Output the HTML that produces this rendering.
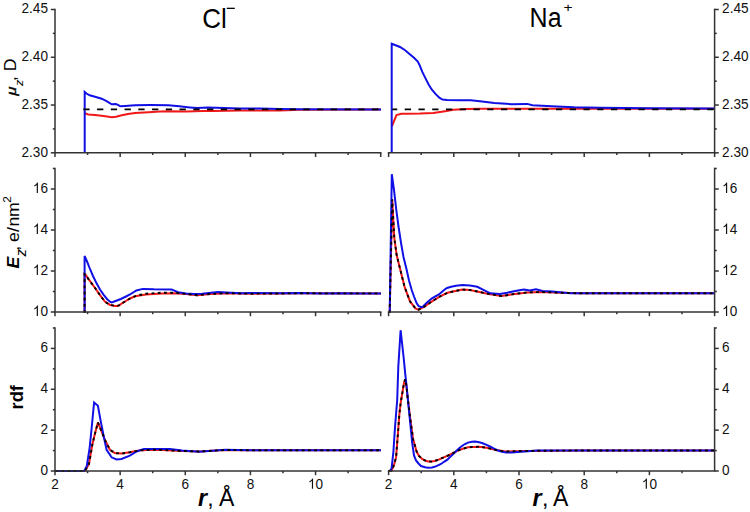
<!DOCTYPE html>
<html><head><meta charset="utf-8"><style>
html,body{margin:0;padding:0;background:#fff;}
svg{display:block;}
</style></head><body>
<svg width="750" height="512" viewBox="0 0 750 512">
<rect width="750" height="512" fill="#fff"/>
<defs>
<clipPath id="ctL"><rect x="52.0" y="7.5" width="331.7" height="146.3"/></clipPath>
<clipPath id="cmL"><rect x="52.0" y="166.5" width="331.7" height="146.5"/></clipPath>
<clipPath id="cbL"><rect x="52.0" y="326.0" width="331.7" height="146.0"/></clipPath>
<clipPath id="ctR"><rect x="385.6" y="7.5" width="332.0" height="146.3"/></clipPath>
<clipPath id="cmR"><rect x="385.6" y="166.5" width="332.0" height="146.5"/></clipPath>
<clipPath id="cbR"><rect x="385.6" y="326.0" width="332.0" height="146.0"/></clipPath>
</defs>
<g clip-path="url(#ctL)">
<polyline points="84.7,113.3 88.3,114.4 95.0,115.0 101.7,115.7 107.0,116.6 111.7,117.3 116.0,116.7 121.7,115.3 128.0,114.0 135.0,113.0 148.3,112.2 160.0,111.6 168.3,111.3 186.7,111.5 202.7,111.0 213.3,111.1 240.0,110.4 280.0,110.4 300.0,109.8 381.0,109.5" fill="none" stroke="#f01818" stroke-width="2" stroke-linejoin="miter" stroke-miterlimit="3" />
<polyline points="84.7,153.0 84.7,92.0 86.5,93.5 89.7,95.3 95.0,96.8 101.7,98.7 107.0,101.3 111.7,104.3 115.7,104.0 118.0,104.8 120.3,106.3 125.0,106.0 135.0,105.3 150.0,105.1 168.5,105.2 179.2,106.3 189.9,107.4 197.3,108.1 208.0,107.4 224.0,108.1 240.0,108.5 260.0,108.6 280.0,109.0 300.0,109.2 381.0,109.4" fill="none" stroke="#1010e6" stroke-width="2" stroke-linejoin="miter" stroke-miterlimit="3" />
<polyline points="83.3,109.3 381.0,109.3" fill="none" stroke="#000" stroke-width="1.7" stroke-linejoin="miter" stroke-miterlimit="3" stroke-dasharray="6.3 7.45" stroke-dashoffset="0"/>
</g>
<g clip-path="url(#ctR)">
<polyline points="391.7,126.5 396.5,115.1 401.4,113.8 406.7,113.7 420.0,113.6 433.3,112.9 446.7,110.9 453.3,109.7 466.7,109.0 480.0,108.7 600.0,108.7 714.0,108.7" fill="none" stroke="#f01818" stroke-width="2" stroke-linejoin="miter" stroke-miterlimit="3" />
<polyline points="391.7,153.0 391.7,43.7 395.0,45.0 400.0,47.0 405.1,50.2 409.5,54.0 414.0,57.8 417.8,61.6 419.7,65.4 422.2,71.7 425.4,78.1 428.6,84.4 431.7,89.5 435.5,93.9 439.3,97.7 442.5,99.6 447.0,100.0 460.0,100.3 470.7,100.3 480.0,101.3 494.3,103.0 511.6,104.2 527.2,103.9 532.4,105.3 556.7,106.5 574.0,107.3 600.0,107.7 650.0,108.2 714.0,108.5" fill="none" stroke="#1010e6" stroke-width="2" stroke-linejoin="miter" stroke-miterlimit="3" />
<polyline points="392.2,109.3 714.0,109.3" fill="none" stroke="#000" stroke-width="1.7" stroke-linejoin="miter" stroke-miterlimit="3" stroke-dasharray="6.3 7.45" stroke-dashoffset="1.25"/>
</g>
<g clip-path="url(#cmL)">
<polyline points="84.6,313.0 84.6,274.0 85.5,274.5 88.9,279.7 94.7,287.5 100.2,295.3 104.9,301.6 109.6,304.7 114.8,305.9 117.5,305.9 119.5,305.1 122.0,303.3 124.2,302.0 130.0,298.5 135.0,296.3 138.0,295.8 146.0,294.5 162.0,293.6 174.8,293.3 186.0,294.0 197.2,295.3 210.0,294.0 226.0,293.2 250.0,293.7 280.0,293.5 300.0,293.3 381.0,293.4" fill="none" stroke="#f01818" stroke-width="2" stroke-linejoin="miter" stroke-miterlimit="3" />
<polyline points="84.6,313.0 84.6,256.0 87.0,261.5 89.6,268.0 93.0,276.0 96.7,283.6 100.0,289.5 103.5,294.6 107.2,299.2 109.5,301.3 111.3,302.4 113.0,302.0 120.8,299.0 126.0,296.5 130.0,294.5 136.4,290.5 142.8,288.9 154.0,289.3 171.6,289.4 178.0,292.2 186.0,293.5 194.0,294.0 202.0,293.7 218.0,292.0 226.0,292.4 242.0,293.2 250.0,292.9 280.0,293.3 300.0,293.1 320.0,293.6 340.0,293.3 360.0,293.5 381.0,293.4" fill="none" stroke="#1010e6" stroke-width="2" stroke-linejoin="miter" stroke-miterlimit="3" />
<polyline points="84.6,313.0 84.6,274.0 85.5,274.5 88.9,279.7 94.7,287.5 100.2,295.3 104.9,301.6 109.6,304.7 114.8,305.9 117.5,305.9 119.5,305.1 122.0,303.3 124.2,302.0 130.0,298.5 135.0,296.3 138.0,295.3 146.0,293.7 162.0,292.7 174.8,292.7 186.0,294.0 197.2,295.3 210.0,294.0 226.0,293.2 250.0,293.7 280.0,293.5 300.0,293.3 381.0,293.4" fill="none" stroke="#000" stroke-width="1.9" stroke-linejoin="miter" stroke-miterlimit="3" stroke-dasharray="2.8 3.4"/>
</g>
<g clip-path="url(#cmR)">
<polyline points="389.7,313.0 392.2,199.4 394.3,238.0 396.7,255.3 400.6,270.9 404.5,286.6 410.0,301.4 415.5,308.4 418.6,309.7 424.0,306.9 431.9,301.4 439.7,296.7 447.5,292.8 455.3,291.0 462.4,289.6 470.0,290.0 477.3,291.5 488.5,293.9 501.6,296.1 514.6,293.9 527.7,292.4 542.6,292.0 560.0,292.8 580.0,293.3 714.0,293.3" fill="none" stroke="#f01818" stroke-width="2" stroke-linejoin="miter" stroke-miterlimit="3" />
<polyline points="389.7,313.0 391.8,174.2 394.0,190.0 396.3,210.0 398.5,226.5 401.1,243.3 403.5,257.0 406.7,270.0 409.0,280.5 411.7,290.0 414.0,296.5 416.7,303.3 418.5,306.0 420.5,307.0 422.5,306.9 427.0,302.5 431.9,298.3 438.9,294.4 444.4,289.7 447.0,288.0 451.2,286.8 456.0,285.8 462.4,284.9 470.0,285.5 477.3,286.8 482.9,289.6 490.4,293.3 499.7,293.9 507.2,292.8 512.8,291.5 518.0,290.5 524.0,289.6 529.6,290.5 536.0,289.2 542.6,290.9 552.0,291.5 570.6,293.3 580.0,293.3 714.0,293.3" fill="none" stroke="#1010e6" stroke-width="2" stroke-linejoin="miter" stroke-miterlimit="3" />
<polyline points="389.7,313.0 392.2,199.4 394.3,238.0 396.7,255.3 400.6,270.9 404.5,286.6 410.0,301.4 415.5,308.4 418.6,309.7 424.0,306.9 431.9,301.4 439.7,296.7 447.5,292.8 455.3,291.0 462.4,289.6 470.0,290.0 477.3,291.5 488.5,293.9 501.6,296.1 514.6,293.9 527.7,292.4 542.6,292.0 560.0,292.8 580.0,293.3 714.0,293.3" fill="none" stroke="#000" stroke-width="1.9" stroke-linejoin="miter" stroke-miterlimit="3" stroke-dasharray="2.8 3.4"/>
</g>
<g clip-path="url(#cbL)">
<polyline points="55.0,471.0 85.0,471.0 89.0,463.9 92.3,444.8 94.6,434.9 97.9,422.4 101.6,431.5 104.9,439.8 109.9,449.8 114.9,453.1 121.5,453.6 129.8,452.3 140.4,450.3 156.0,449.7 182.0,451.0 199.3,451.5 225.0,450.0 251.0,450.3 381.0,450.3" fill="none" stroke="#f01818" stroke-width="2" stroke-linejoin="miter" stroke-miterlimit="3" />
<polyline points="55.0,471.0 84.2,471.0 86.8,466.0 89.6,448.1 91.3,431.5 94.1,402.5 97.9,405.8 100.8,421.6 104.1,438.2 106.6,449.8 111.6,457.3 116.5,459.4 121.5,458.9 129.8,455.6 136.7,451.5 143.9,448.9 169.9,448.9 182.0,450.6 199.3,451.8 225.3,449.7 251.3,450.3 300.0,450.3 381.0,450.3" fill="none" stroke="#1010e6" stroke-width="2" stroke-linejoin="miter" stroke-miterlimit="3" />
<polyline points="55.0,471.0 85.0,471.0 89.0,463.9 92.3,444.8 94.6,434.9 97.9,422.4 101.6,431.5 104.9,439.8 109.9,449.8 114.9,453.1 121.5,453.6 129.8,452.3 140.4,450.3 156.0,449.7 182.0,451.0 199.3,451.5 225.0,450.0 251.0,450.3 381.0,450.3" fill="none" stroke="#000" stroke-width="1.9" stroke-linejoin="miter" stroke-miterlimit="3" stroke-dasharray="2.8 3.4"/>
</g>
<g clip-path="url(#cbR)">
<polyline points="388.6,471.0 391.6,470.5 394.0,465.0 396.1,457.2 397.9,433.9 399.3,415.0 400.6,403.3 402.4,392.6 404.0,383.0 405.2,379.3 406.4,386.0 407.7,398.0 410.4,419.5 413.1,439.2 416.7,451.8 419.0,456.0 422.1,459.0 425.8,460.8 428.0,461.5 431.4,461.6 434.6,461.0 438.6,459.6 445.0,456.8 451.4,454.0 457.8,450.6 462.0,449.0 468.0,447.2 479.2,446.8 486.6,447.7 496.0,450.1 505.3,451.5 524.0,450.9 580.0,450.5 714.0,450.5" fill="none" stroke="#f01818" stroke-width="2" stroke-linejoin="miter" stroke-miterlimit="3" />
<polyline points="388.6,471.0 390.6,470.8 391.6,468.0 392.5,460.0 393.4,451.8 394.3,438.0 395.2,424.9 396.3,411.0 397.2,400.0 398.3,366.9 400.6,330.2 403.8,359.0 405.3,374.7 406.5,385.0 408.6,406.9 410.4,424.9 412.2,442.8 414.0,455.4 416.0,460.5 418.5,463.5 421.0,466.0 425.0,467.3 428.0,467.8 432.0,467.4 434.6,466.8 438.0,465.3 441.0,464.0 444.0,461.8 447.4,459.6 450.0,457.0 453.0,454.4 456.0,451.2 459.4,448.0 462.0,446.0 465.0,444.0 468.0,442.6 472.0,441.8 475.0,441.6 478.0,442.0 482.0,443.0 486.0,444.6 490.0,446.5 494.0,448.7 498.0,450.5 502.0,451.8 506.0,452.4 512.0,452.4 518.0,452.0 528.0,451.2 537.0,450.5 580.0,450.5 714.0,450.5" fill="none" stroke="#1010e6" stroke-width="2" stroke-linejoin="miter" stroke-miterlimit="3" />
<polyline points="388.6,471.0 391.6,470.5 394.0,465.0 396.1,457.2 397.9,433.9 399.3,415.0 400.6,403.3 402.4,392.6 404.0,383.0 405.2,379.3 406.4,386.0 407.7,398.0 410.4,419.5 413.1,439.2 416.7,451.8 419.0,456.0 422.1,459.0 425.8,460.8 428.0,461.5 431.4,461.6 434.6,461.0 438.6,459.6 445.0,456.8 451.4,454.0 457.8,450.6 462.0,449.0 468.0,447.2 479.2,446.8 486.6,447.7 496.0,450.1 505.3,451.5 524.0,450.9 580.0,450.5 714.0,450.5" fill="none" stroke="#000" stroke-width="1.9" stroke-linejoin="miter" stroke-miterlimit="3" stroke-dasharray="2.8 3.4"/>
</g>
<g stroke="#333" stroke-width="1.5" fill="none" stroke-linecap="butt">
<line x1="54.20" y1="152.80" x2="381.50" y2="152.80"/>
<line x1="55.00" y1="152.80" x2="55.00" y2="157.00"/>
<line x1="87.57" y1="152.80" x2="87.57" y2="155.00"/>
<line x1="120.14" y1="152.80" x2="120.14" y2="157.00"/>
<line x1="152.71" y1="152.80" x2="152.71" y2="155.00"/>
<line x1="185.28" y1="152.80" x2="185.28" y2="157.00"/>
<line x1="217.85" y1="152.80" x2="217.85" y2="155.00"/>
<line x1="250.42" y1="152.80" x2="250.42" y2="157.00"/>
<line x1="282.99" y1="152.80" x2="282.99" y2="155.00"/>
<line x1="315.56" y1="152.80" x2="315.56" y2="157.00"/>
<line x1="348.13" y1="152.80" x2="348.13" y2="155.00"/>
<line x1="380.70" y1="152.80" x2="380.70" y2="157.00"/>
<line x1="55.00" y1="8.70" x2="55.00" y2="152.80"/>
<line x1="55.00" y1="152.80" x2="50.80" y2="152.80"/>
<line x1="55.00" y1="105.03" x2="50.80" y2="105.03"/>
<line x1="55.00" y1="57.27" x2="50.80" y2="57.27"/>
<line x1="55.00" y1="9.50" x2="50.80" y2="9.50"/>
<line x1="55.00" y1="128.92" x2="52.80" y2="128.92"/>
<line x1="55.00" y1="81.15" x2="52.80" y2="81.15"/>
<line x1="55.00" y1="33.38" x2="52.80" y2="33.38"/>
<line x1="54.20" y1="312.00" x2="381.50" y2="312.00"/>
<line x1="55.00" y1="312.00" x2="55.00" y2="316.20"/>
<line x1="87.57" y1="312.00" x2="87.57" y2="314.20"/>
<line x1="120.14" y1="312.00" x2="120.14" y2="316.20"/>
<line x1="152.71" y1="312.00" x2="152.71" y2="314.20"/>
<line x1="185.28" y1="312.00" x2="185.28" y2="316.20"/>
<line x1="217.85" y1="312.00" x2="217.85" y2="314.20"/>
<line x1="250.42" y1="312.00" x2="250.42" y2="316.20"/>
<line x1="282.99" y1="312.00" x2="282.99" y2="314.20"/>
<line x1="315.56" y1="312.00" x2="315.56" y2="316.20"/>
<line x1="348.13" y1="312.00" x2="348.13" y2="314.20"/>
<line x1="380.70" y1="312.00" x2="380.70" y2="316.20"/>
<line x1="55.00" y1="167.70" x2="55.00" y2="312.00"/>
<line x1="55.00" y1="312.00" x2="50.80" y2="312.00"/>
<line x1="55.00" y1="271.00" x2="50.80" y2="271.00"/>
<line x1="55.00" y1="230.00" x2="50.80" y2="230.00"/>
<line x1="55.00" y1="189.00" x2="50.80" y2="189.00"/>
<line x1="55.00" y1="291.50" x2="52.80" y2="291.50"/>
<line x1="55.00" y1="250.50" x2="52.80" y2="250.50"/>
<line x1="55.00" y1="209.50" x2="52.80" y2="209.50"/>
<line x1="55.00" y1="168.50" x2="52.80" y2="168.50"/>
<line x1="54.20" y1="471.00" x2="381.50" y2="471.00"/>
<line x1="55.00" y1="471.00" x2="55.00" y2="475.20"/>
<line x1="87.57" y1="471.00" x2="87.57" y2="473.20"/>
<line x1="120.14" y1="471.00" x2="120.14" y2="475.20"/>
<line x1="152.71" y1="471.00" x2="152.71" y2="473.20"/>
<line x1="185.28" y1="471.00" x2="185.28" y2="475.20"/>
<line x1="217.85" y1="471.00" x2="217.85" y2="473.20"/>
<line x1="250.42" y1="471.00" x2="250.42" y2="475.20"/>
<line x1="282.99" y1="471.00" x2="282.99" y2="473.20"/>
<line x1="315.56" y1="471.00" x2="315.56" y2="475.20"/>
<line x1="348.13" y1="471.00" x2="348.13" y2="473.20"/>
<line x1="55.00" y1="327.20" x2="55.00" y2="471.00"/>
<line x1="55.00" y1="471.00" x2="50.80" y2="471.00"/>
<line x1="55.00" y1="430.14" x2="50.80" y2="430.14"/>
<line x1="55.00" y1="389.29" x2="50.80" y2="389.29"/>
<line x1="55.00" y1="348.43" x2="50.80" y2="348.43"/>
<line x1="55.00" y1="450.57" x2="52.80" y2="450.57"/>
<line x1="55.00" y1="409.71" x2="52.80" y2="409.71"/>
<line x1="55.00" y1="368.86" x2="52.80" y2="368.86"/>
<line x1="55.00" y1="328.00" x2="52.80" y2="328.00"/>
<line x1="387.80" y1="152.80" x2="715.40" y2="152.80"/>
<line x1="388.60" y1="152.80" x2="388.60" y2="157.00"/>
<line x1="421.20" y1="152.80" x2="421.20" y2="155.00"/>
<line x1="453.80" y1="152.80" x2="453.80" y2="157.00"/>
<line x1="486.40" y1="152.80" x2="486.40" y2="155.00"/>
<line x1="519.00" y1="152.80" x2="519.00" y2="157.00"/>
<line x1="551.60" y1="152.80" x2="551.60" y2="155.00"/>
<line x1="584.20" y1="152.80" x2="584.20" y2="157.00"/>
<line x1="616.80" y1="152.80" x2="616.80" y2="155.00"/>
<line x1="649.40" y1="152.80" x2="649.40" y2="157.00"/>
<line x1="682.00" y1="152.80" x2="682.00" y2="155.00"/>
<line x1="714.60" y1="152.80" x2="714.60" y2="157.00"/>
<line x1="714.60" y1="8.70" x2="714.60" y2="152.80"/>
<line x1="714.60" y1="152.80" x2="718.80" y2="152.80"/>
<line x1="714.60" y1="105.03" x2="718.80" y2="105.03"/>
<line x1="714.60" y1="57.27" x2="718.80" y2="57.27"/>
<line x1="714.60" y1="9.50" x2="718.80" y2="9.50"/>
<line x1="714.60" y1="128.92" x2="716.80" y2="128.92"/>
<line x1="714.60" y1="81.15" x2="716.80" y2="81.15"/>
<line x1="714.60" y1="33.38" x2="716.80" y2="33.38"/>
<line x1="387.80" y1="312.00" x2="715.40" y2="312.00"/>
<line x1="388.60" y1="312.00" x2="388.60" y2="316.20"/>
<line x1="421.20" y1="312.00" x2="421.20" y2="314.20"/>
<line x1="453.80" y1="312.00" x2="453.80" y2="316.20"/>
<line x1="486.40" y1="312.00" x2="486.40" y2="314.20"/>
<line x1="519.00" y1="312.00" x2="519.00" y2="316.20"/>
<line x1="551.60" y1="312.00" x2="551.60" y2="314.20"/>
<line x1="584.20" y1="312.00" x2="584.20" y2="316.20"/>
<line x1="616.80" y1="312.00" x2="616.80" y2="314.20"/>
<line x1="649.40" y1="312.00" x2="649.40" y2="316.20"/>
<line x1="682.00" y1="312.00" x2="682.00" y2="314.20"/>
<line x1="714.60" y1="312.00" x2="714.60" y2="316.20"/>
<line x1="714.60" y1="167.70" x2="714.60" y2="312.00"/>
<line x1="714.60" y1="312.00" x2="718.80" y2="312.00"/>
<line x1="714.60" y1="271.00" x2="718.80" y2="271.00"/>
<line x1="714.60" y1="230.00" x2="718.80" y2="230.00"/>
<line x1="714.60" y1="189.00" x2="718.80" y2="189.00"/>
<line x1="714.60" y1="291.50" x2="716.80" y2="291.50"/>
<line x1="714.60" y1="250.50" x2="716.80" y2="250.50"/>
<line x1="714.60" y1="209.50" x2="716.80" y2="209.50"/>
<line x1="714.60" y1="168.50" x2="716.80" y2="168.50"/>
<line x1="387.80" y1="471.00" x2="715.40" y2="471.00"/>
<line x1="388.60" y1="471.00" x2="388.60" y2="475.20"/>
<line x1="421.20" y1="471.00" x2="421.20" y2="473.20"/>
<line x1="453.80" y1="471.00" x2="453.80" y2="475.20"/>
<line x1="486.40" y1="471.00" x2="486.40" y2="473.20"/>
<line x1="519.00" y1="471.00" x2="519.00" y2="475.20"/>
<line x1="551.60" y1="471.00" x2="551.60" y2="473.20"/>
<line x1="584.20" y1="471.00" x2="584.20" y2="475.20"/>
<line x1="616.80" y1="471.00" x2="616.80" y2="473.20"/>
<line x1="649.40" y1="471.00" x2="649.40" y2="475.20"/>
<line x1="682.00" y1="471.00" x2="682.00" y2="473.20"/>
<line x1="714.60" y1="327.20" x2="714.60" y2="471.00"/>
<line x1="714.60" y1="471.00" x2="718.80" y2="471.00"/>
<line x1="714.60" y1="430.14" x2="718.80" y2="430.14"/>
<line x1="714.60" y1="389.29" x2="718.80" y2="389.29"/>
<line x1="714.60" y1="348.43" x2="718.80" y2="348.43"/>
<line x1="714.60" y1="450.57" x2="716.80" y2="450.57"/>
<line x1="714.60" y1="409.71" x2="716.80" y2="409.71"/>
<line x1="714.60" y1="368.86" x2="716.80" y2="368.86"/>
<line x1="714.60" y1="328.00" x2="716.80" y2="328.00"/>
</g>
<g font-family="Liberation Sans, sans-serif" font-size="13.6" fill="#111">
<text transform="translate(21.53,156.70) scale(1,1.1)">2.30</text>
<text transform="translate(21.53,108.93) scale(1,1.1)">2.35</text>
<text transform="translate(21.53,61.17) scale(1,1.1)">2.40</text>
<text transform="translate(21.53,13.40) scale(1,1.1)">2.45</text>
<path d="M763,0L583,0L583,1098Q518,1039 412,979Q306,920 222,890L222,1057Q373,1125 486,1221Q599,1318 646,1409L763,1409Z" transform="translate(32.87,315.90) scale(0.006641,-0.007305)"/><text transform="translate(40.44,315.90) scale(1,1.1)">0</text>
<path d="M763,0L583,0L583,1098Q518,1039 412,979Q306,920 222,890L222,1057Q373,1125 486,1221Q599,1318 646,1409L763,1409Z" transform="translate(32.87,274.90) scale(0.006641,-0.007305)"/><text transform="translate(40.44,274.90) scale(1,1.1)">2</text>
<path d="M763,0L583,0L583,1098Q518,1039 412,979Q306,920 222,890L222,1057Q373,1125 486,1221Q599,1318 646,1409L763,1409Z" transform="translate(32.87,233.90) scale(0.006641,-0.007305)"/><text transform="translate(40.44,233.90) scale(1,1.1)">4</text>
<path d="M763,0L583,0L583,1098Q518,1039 412,979Q306,920 222,890L222,1057Q373,1125 486,1221Q599,1318 646,1409L763,1409Z" transform="translate(32.87,192.90) scale(0.006641,-0.007305)"/><text transform="translate(40.44,192.90) scale(1,1.1)">6</text>
<text transform="translate(40.44,474.90) scale(1,1.1)">0</text>
<text transform="translate(40.44,434.04) scale(1,1.1)">2</text>
<text transform="translate(40.44,393.19) scale(1,1.1)">4</text>
<text transform="translate(40.44,352.33) scale(1,1.1)">6</text>
<text transform="translate(722.10,156.70) scale(1,1.1)">2.30</text>
<text transform="translate(722.10,108.93) scale(1,1.1)">2.35</text>
<text transform="translate(722.10,61.17) scale(1,1.1)">2.40</text>
<text transform="translate(722.10,13.40) scale(1,1.1)">2.45</text>
<path d="M763,0L583,0L583,1098Q518,1039 412,979Q306,920 222,890L222,1057Q373,1125 486,1221Q599,1318 646,1409L763,1409Z" transform="translate(722.10,315.90) scale(0.006641,-0.007305)"/><text transform="translate(729.66,315.90) scale(1,1.1)">0</text>
<path d="M763,0L583,0L583,1098Q518,1039 412,979Q306,920 222,890L222,1057Q373,1125 486,1221Q599,1318 646,1409L763,1409Z" transform="translate(722.10,274.90) scale(0.006641,-0.007305)"/><text transform="translate(729.66,274.90) scale(1,1.1)">2</text>
<path d="M763,0L583,0L583,1098Q518,1039 412,979Q306,920 222,890L222,1057Q373,1125 486,1221Q599,1318 646,1409L763,1409Z" transform="translate(722.10,233.90) scale(0.006641,-0.007305)"/><text transform="translate(729.66,233.90) scale(1,1.1)">4</text>
<path d="M763,0L583,0L583,1098Q518,1039 412,979Q306,920 222,890L222,1057Q373,1125 486,1221Q599,1318 646,1409L763,1409Z" transform="translate(722.10,192.90) scale(0.006641,-0.007305)"/><text transform="translate(729.66,192.90) scale(1,1.1)">6</text>
<text transform="translate(722.10,474.90) scale(1,1.1)">0</text>
<text transform="translate(722.10,434.04) scale(1,1.1)">2</text>
<text transform="translate(722.10,393.19) scale(1,1.1)">4</text>
<text transform="translate(722.10,352.33) scale(1,1.1)">6</text>
<text transform="translate(51.22,488.80) scale(1,1.1)">2</text>
<text transform="translate(116.36,488.80) scale(1,1.1)">4</text>
<text transform="translate(181.50,488.80) scale(1,1.1)">6</text>
<text transform="translate(246.64,488.80) scale(1,1.1)">8</text>
<path d="M763,0L583,0L583,1098Q518,1039 412,979Q306,920 222,890L222,1057Q373,1125 486,1221Q599,1318 646,1409L763,1409Z" transform="translate(308.00,488.80) scale(0.006641,-0.007305)"/><text transform="translate(315.56,488.80) scale(1,1.1)">0</text>
<text transform="translate(384.82,488.80) scale(1,1.1)">2</text>
<text transform="translate(450.02,488.80) scale(1,1.1)">4</text>
<text transform="translate(515.22,488.80) scale(1,1.1)">6</text>
<text transform="translate(580.42,488.80) scale(1,1.1)">8</text>
<path d="M763,0L583,0L583,1098Q518,1039 412,979Q306,920 222,890L222,1057Q373,1125 486,1221Q599,1318 646,1409L763,1409Z" transform="translate(641.84,488.80) scale(0.006641,-0.007305)"/><text transform="translate(649.40,488.80) scale(1,1.1)">0</text>
</g>

<g font-family="Liberation Sans, sans-serif">
<text transform="translate(202.3,27.9) scale(0.96,1.02)" font-size="27" fill="#000">Cl</text>
<rect x="226.8" y="7.7" width="8" height="1.3" fill="#000"/>
<text transform="translate(529.6,26.8) scale(0.95,1.035)" font-size="26.3" fill="#000">Na</text>
<text transform="translate(563.6,11.6) scale(1.1,0.95)" font-size="14.2" fill="#000">+</text>
<g transform="translate(16.1,95.6) rotate(-90) scale(1.08,1)">
 <text transform="scale(1.12,1)" x="0" y="0" font-size="13.5" font-style="italic" fill="#000" stroke="#000" stroke-width="0.4">μ</text>
 <text x="8.9" y="7" font-size="11.5" font-style="italic" fill="#000">z</text>
 <text x="13.6" y="0" font-size="16" fill="#000">,</text>
 <text x="22.5" y="0" font-size="16.5" fill="#000">D</text>
</g>
<g transform="translate(19.2,268.4) rotate(-90) scale(1.08,1)">
 <text x="0" y="0" font-size="16.3" font-weight="bold" font-style="italic" fill="#000">E</text>
 <text x="11.1" y="7" font-size="14" font-style="italic" fill="#000">z</text>
 <text x="16.3" y="0" font-size="16.3" fill="#000">,</text>
 <text x="24.5" y="0" font-size="16.3" fill="#000">e</text>
 <text x="33.8" y="0" font-size="16.3" fill="#000">/</text>
 <text x="38.9" y="0" font-size="16.3" fill="#000">n</text>
 <text x="47.7" y="0" font-size="16.3" fill="#000">m</text>
 <text x="60.9" y="-8.25" font-size="11" fill="#000">2</text>
</g>
<g transform="translate(23.3,409.4) rotate(-90) scale(1.045,1)">
 <text x="0" y="0" font-size="17.5" font-weight="bold" fill="#000">rdf</text>
</g>
<text x="197.9" y="505.5" font-size="23.3" font-weight="bold" font-style="italic" fill="#000">r</text>
<text x="207.3" y="505.5" font-size="23" fill="#000">,</text>
<text x="218.9" y="505.5" font-size="23" fill="#000">Å</text>
<text x="532.5" y="505.5" font-size="23.3" font-weight="bold" font-style="italic" fill="#000">r</text>
<text x="541.9" y="505.5" font-size="23" fill="#000">,</text>
<text x="553.0" y="505.5" font-size="23" fill="#000">Å</text>
</g>

</svg>
</body></html>
